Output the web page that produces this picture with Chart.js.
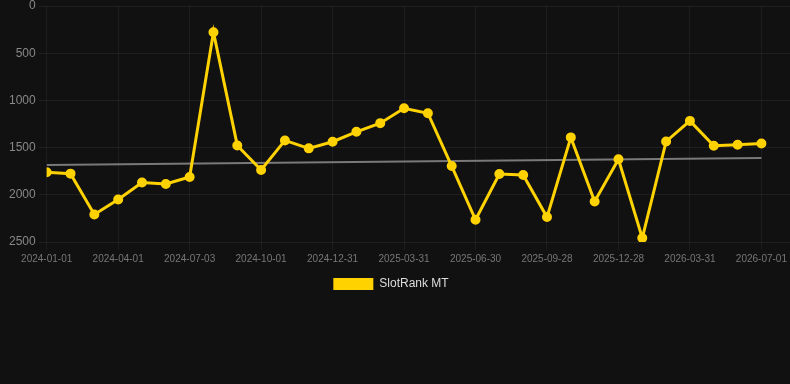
<!DOCTYPE html>
<html>
<head>
<meta charset="utf-8">
<script src="https://cdn.jsdelivr.net/npm/chart.js@4.4.1/dist/chart.umd.min.js"></script>
<style>
  html, body { margin: 0; padding: 0; background: #111111; overflow: hidden; }
  #wrap { width: 796px; height: 300px; position: relative; }
</style>
</head>
<body>
<div id="wrap"><canvas id="rankChart"></canvas></div>
<script>
// Datas de cada ponto (só uma a cada três aparece no eixo)
const dates = [
    '2024-01-01', '2024-01-31', '2024-03-02', '2024-04-01', '2024-05-02', '2024-06-02',
    '2024-07-03', '2024-08-01', '2024-09-01', '2024-10-01', '2024-10-31', '2024-12-01',
    '2024-12-31', '2025-01-30', '2025-03-01', '2025-03-31', '2025-04-30', '2025-05-31',
    '2025-06-30', '2025-07-30', '2025-08-29', '2025-09-28', '2025-10-28', '2025-11-28',
    '2025-12-28', '2026-01-29', '2026-02-28', '2026-03-31', '2026-05-01', '2026-05-31',
    '2026-07-01'
];

// Posição no ranking (eixo invertido: menor = melhor)
const rankValues = [
    1762, 1776, 2208, 2050, 1870, 1885, 1811, 278, 1477, 1737, 1424,
    1508, 1438, 1333, 1241, 1083, 1136, 1695, 2265, 1779, 1790, 2236,
    1392, 2071, 1624, 2458, 1435, 1217, 1480, 1470, 1456
];

// Linha de tendência: valor no primeiro e no último ponto
const trendEnds = [1684, 1610];

const seriesName = 'SlotRank MT';
const yTicks = [0, 500, 1000, 1500, 2000, 2500];
const xTickIdx = [0, 3, 6, 9, 12, 15, 18, 21, 24, 27, 30];

// Puxa a legenda alguns pixels para a esquerda, como no original
const legendShift = {
    id: 'legendShift',
    afterLayout(chart) {
        if (chart.legend) {
            chart.legend.left -= 10;
            chart.legend.right -= 10;
        }
    }
};

function buildChart() {
    const ctx = document.getElementById('rankChart').getContext('2d');
    const last = rankValues.length - 1;
    const font = 'Liberation Sans, Arial, sans-serif';

    new Chart(ctx, {
        type: 'line',
        data: {
            datasets: [
                {
                    label: seriesName,
                    data: rankValues.map((v, i) => ({ x: i, y: v })),
                    borderColor: '#ffd200',
                    backgroundColor: '#ffd200',
                    borderWidth: 3,
                    pointRadius: 4,
                    pointBorderWidth: 2,
                    pointBackgroundColor: '#ffd200',
                    pointBorderColor: '#ffd200',
                    tension: 0
                },
                {
                    label: 'trend',
                    data: [{ x: 0, y: trendEnds[0] }, { x: last, y: trendEnds[1] }],
                    borderColor: 'rgba(140,140,140,0.85)',
                    borderWidth: 2,
                    pointRadius: 0,
                    fill: false
                }
            ]
        },
        options: {
            responsive: true,
            maintainAspectRatio: false,
            animation: false,
            layout: { padding: { left: 6 } },
            plugins: {
                legend: {
                    position: 'bottom',
                    labels: {
                        color: '#dddddd',
                        boxWidth: 40,
                        boxHeight: 12,
                        font: { family: font, size: 12 },
                        filter: item => item.text !== 'trend',
                        generateLabels: chart => {
                            const items = Chart.defaults.plugins.legend.labels.generateLabels(chart);
                            items.forEach(it => { it.lineWidth = 0; });
                            return items;
                        }
                    }
                },
                tooltip: { enabled: false }
            },
            scales: {
                x: {
                    type: 'linear',
                    min: 0,
                    max: 31.2,
                    afterBuildTicks: axis => {
                        axis.ticks = xTickIdx.map(v => ({ value: v }));
                    },
                    afterFit: axis => { axis.paddingRight = 0; },
                    grid: { color: 'rgba(255,255,255,0.05)' },
                    border: { display: false },
                    ticks: {
                        color: '#777777',
                        maxRotation: 0,
                        autoSkip: false,
                        font: { family: font, size: 10 },
                        callback: v => dates[v]
                    }
                },
                y: {
                    reverse: true,
                    min: 0,
                    max: 2500,
                    afterBuildTicks: axis => {
                        axis.ticks = yTicks.map(v => ({ value: v }));
                    },
                    afterFit: axis => { axis.paddingTop = 6; },
                    grid: { color: 'rgba(255,255,255,0.06)' },
                    border: { display: false },
                    ticks: {
                        color: '#888888',
                        font: { family: font, size: 12 },
                        callback: v => String(v)
                    }
                }
            }
        },
        plugins: [legendShift]
    });
}

window.onload = buildChart;
</script>
</body>
</html>
